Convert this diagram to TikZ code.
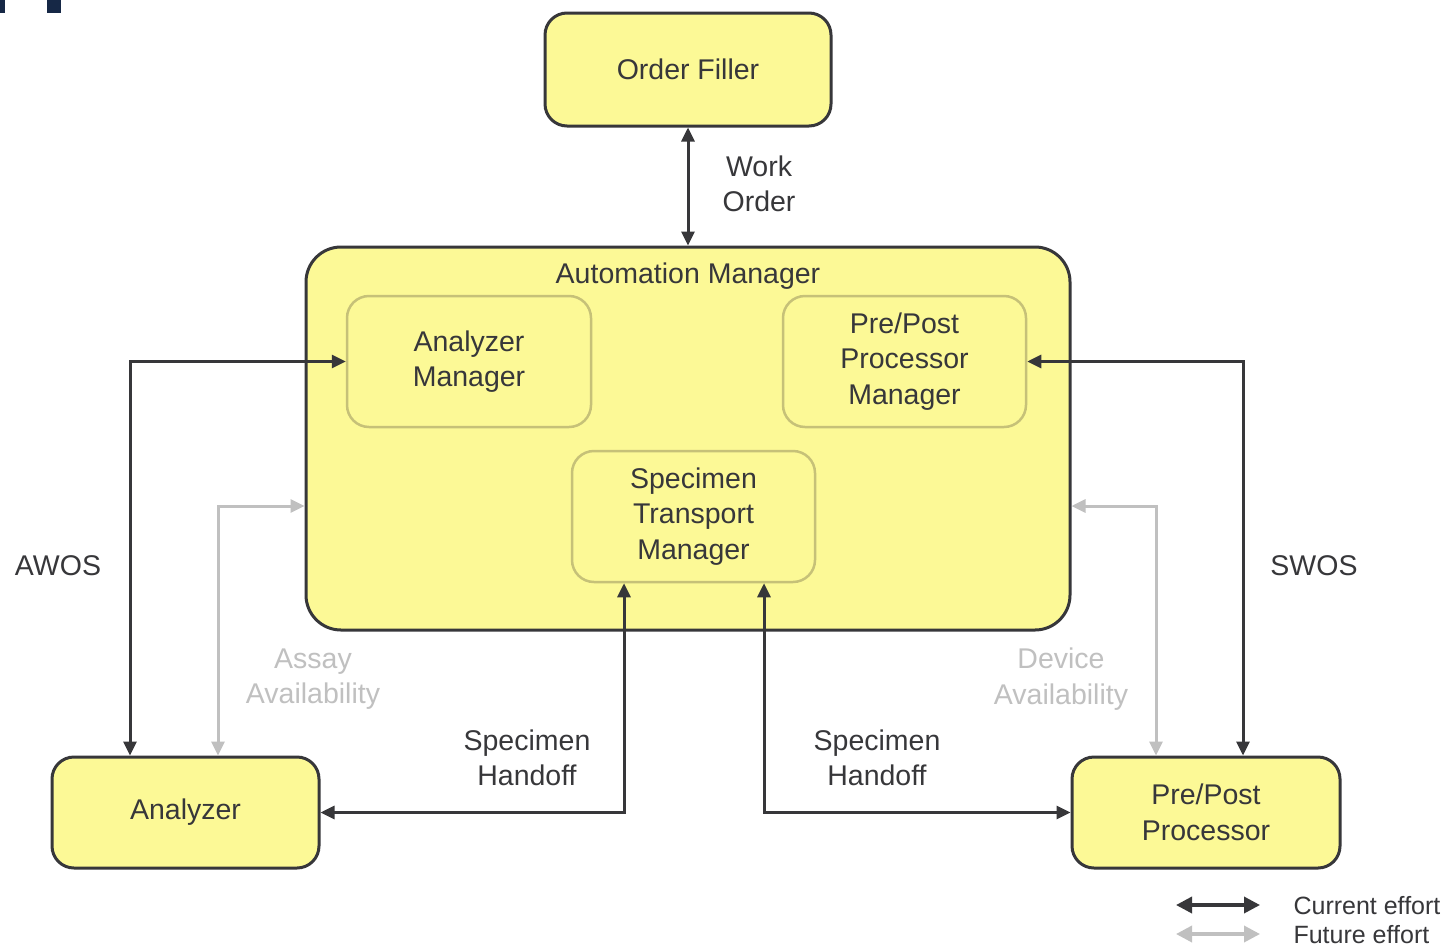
\documentclass[tikz,border=0pt]{standalone}
\usepackage{fontspec}
\setmainfont{Liberation Sans}
\usetikzlibrary{arrows.meta}
\definecolor{boxfill}{RGB}{252,249,150}
\definecolor{dark}{RGB}{55,55,58}
\definecolor{innerline}{RGB}{198,193,120}
\definecolor{futgray}{RGB}{192,192,192}
\definecolor{navy}{RGB}{22,40,70}
\begin{document}
\begin{tikzpicture}[x=1pt,y=-1pt,
  every node/.style={font=\fontsize{28.5}{35.5}\selectfont, text=dark},
  outerbox/.style={draw=dark, line width=3pt, fill=boxfill, rounded corners=22pt, inner sep=0pt, align=center},
  innerbox/.style={draw=innerline, line width=2.5pt, fill=boxfill, rounded corners=22pt, inner sep=0pt, align=center},
  cur/.style={draw=dark, line width=3pt, {Triangle[length=14pt,width=13pt]}-{Triangle[length=14pt,width=13pt]}},
  fut/.style={draw=futgray, line width=3pt, {Triangle[length=14pt,width=13pt]}-{Triangle[length=14pt,width=13pt]}},
  legcur/.style={draw=dark, line width=3.5pt, {Triangle[length=16pt,width=16pt]}-{Triangle[length=16pt,width=16pt]}},
  legfut/.style={draw=futgray, line width=3.5pt, {Triangle[length=16pt,width=16pt]}-{Triangle[length=16pt,width=16pt]}},
  lbl/.style={align=center},
  futlbl/.style={align=center, text=futgray},
  leglbl/.style={anchor=west, font=\fontsize{25}{29}\selectfont}
]
\useasboundingbox (0,0) rectangle (1447,948);
\fill[white] (0,0) rectangle (1447,948);
% corner marks
\fill[navy] (0,0) rectangle (5,13);
\fill[navy] (47,0) rectangle (61,13);

% boxes
\node[outerbox, minimum width=286pt, minimum height=113pt] (OF) at (688,69.5) {Order Filler};
\node[outerbox, minimum width=764pt, minimum height=383pt, rounded corners=35pt] (AM) at (688,438.5) {};
\node[lbl] (AMlabel) at (688,276) {Automation Manager};
\node[innerbox, minimum width=244pt, minimum height=131pt] (AnM) at (469,361.5) {Analyzer\\Manager};
\node[innerbox, minimum width=243pt, minimum height=131pt] (PPM) at (904.5,361.5) {Pre/Post\\Processor\\Manager};
\node[innerbox, minimum width=243pt, minimum height=131pt] (STM) at (693.5,516.5) {Specimen\\Transport\\Manager};
\node[outerbox, minimum width=267pt, minimum height=111pt] (An) at (185.5,812.5) {Analyzer};
\node[outerbox, minimum width=268pt, minimum height=111pt] (PP) at (1206,812.5) {Pre/Post\\Processor};

% routing coordinates
\coordinate (awos) at (130,0);
\coordinate (swos) at (1243,0);
\coordinate (assay) at (218,506);
\coordinate (device) at (1156,506);
\coordinate (hl) at (624,812.5);
\coordinate (hr) at (764,812.5);

% connectors
\draw[cur] (OF.south) -- (AM.north);
\draw[cur] (AnM.west) -| (An.north -| awos);
\draw[cur] (PPM.east) -| (PP.north -| swos);
\draw[fut] (AM.west |- assay) -| (An.north -| assay);
\draw[fut] (AM.east |- device) -| (PP.north -| device);
\draw[cur] (STM.south -| hl) |- (An.east);
\draw[cur] (STM.south -| hr) |- (PP.west);

% labels
\node[lbl] (wo) at (759,184) {Work\\Order};
\node[lbl] (awoslbl) at (58,566) {AWOS};
\node[lbl] (swoslbl) at (1314,566) {SWOS};
\node[futlbl] (assaylbl) at (313,679) {Assay\\Availability};
\node[futlbl] (devicelbl) at (1061,679) {Device\\Availability};
\node[lbl] (shl) at (527,758) {Specimen\\Handoff};
\node[lbl] (shr) at (877,758) {Specimen\\Handoff};

% legend
\coordinate (c1) at (1176,905);
\coordinate (c2) at (1260,905);
\coordinate (f1) at (1176,934);
\coordinate (f2) at (1260,934);
\draw[legcur] (c1) -- (c2);
\draw[legfut] (f1) -- (f2);
\node[leglbl] (curlbl) at (1290,906) {Current effort};
\node[leglbl] (futlbl) at (1290,935) {Future effort};
\end{tikzpicture}
\end{document}
